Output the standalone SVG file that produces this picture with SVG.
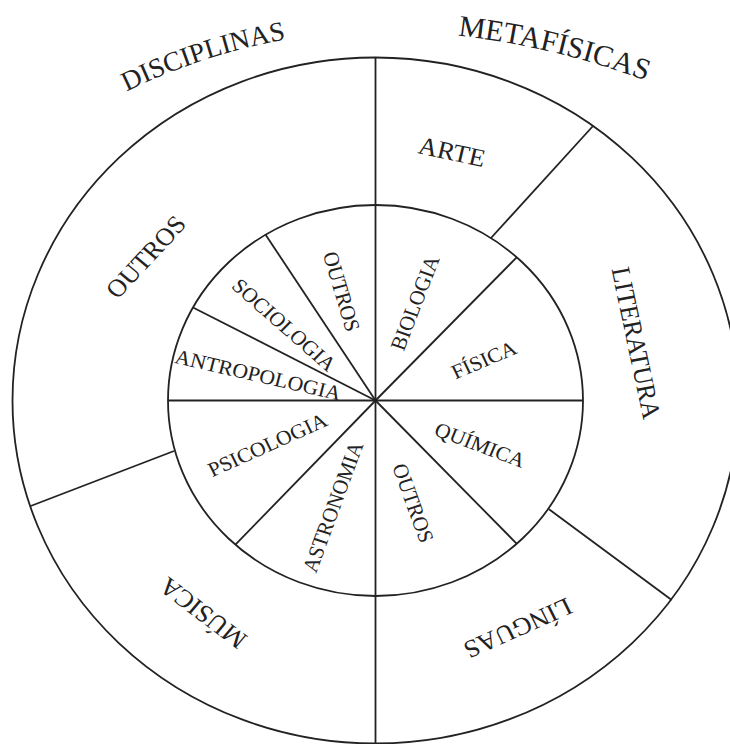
<svg xmlns="http://www.w3.org/2000/svg" width="730" height="744" viewBox="0 0 730 744">
<style>
.ln{stroke:#222;stroke-width:1.8;fill:none}
.t{font-family:"Liberation Serif","Times New Roman",serif;fill:#222;text-anchor:middle;dominant-baseline:central}
.c{font-family:"Liberation Serif","Times New Roman",serif;fill:#222;text-anchor:middle;font-size:30px}
.d{font-size:27.5px}
.s{font-size:20.5px}
.b{font-size:25px}
</style>
<defs>
<path id="arcD" d="M 114 98 A 600 600 0 0 1 300 37"/>
<path id="arcM" d="M 443 34 A 800 800 0 0 1 660 86"/>
</defs>
<rect width="730" height="744" fill="#fff"/>
<g id="rings">
<ellipse class="ln" cx="375.5" cy="400.5" rx="363" ry="343"/>
<ellipse class="ln" cx="375.5" cy="400.5" rx="207.5" ry="195.5"/>
</g>
<g id="connectors">
<line class="ln" x1="375.5" y1="57.5" x2="375.5" y2="743.5"/>
<line class="ln" x1="168" y1="400.5" x2="583" y2="400.5"/>
<line class="ln" x1="375.5" y1="400.5" x2="516.7" y2="257.3"/>
<line class="ln" x1="375.5" y1="400.5" x2="516.8" y2="543.8"/>
<line class="ln" x1="375.5" y1="400.5" x2="235.4" y2="544.7"/>
<line class="ln" x1="375.5" y1="400.5" x2="265.6" y2="234.7"/>
<line class="ln" x1="375.5" y1="400.5" x2="193" y2="307.5"/>
<line class="ln" x1="491" y1="238" x2="593" y2="126"/>
<line class="ln" x1="549" y1="509.3" x2="671.7" y2="600"/>
<line class="ln" x1="174" y1="451" x2="30.7" y2="506"/>
</g>
<g id="disciplinas">
<text class="c d"><textPath href="#arcD" startOffset="50%">DISCIPLINAS</textPath></text>
</g>
<g id="metafisicas">
<text class="c"><textPath href="#arcM" startOffset="50%">METAFÍSICAS</textPath></text>
</g>
<g id="arte"><text class="t b" transform="translate(452,152) scale(1.06,1) rotate(12.7)">ARTE</text></g>
<g id="outros-ext"><text class="t b" transform="translate(146,257) scale(1.06,1) rotate(-48.7)">OUTROS</text></g>
<g id="literatura"><text class="t b" transform="translate(636,343) scale(1.06,1) rotate(78.7)">LITERATURA</text></g>
<g id="linguas"><text class="t b" transform="translate(518,628) scale(1.06,1) rotate(154.8)">LÍNGUAS</text></g>
<g id="musica"><text class="t b" transform="translate(203,613) scale(1.06,1) rotate(218.7)">MÚSICA</text></g>
<g id="outros-sup"><text class="t s" transform="translate(341.5,291.5) scale(1.06,1) rotate(74.3)">OUTROS</text></g>
<g id="biologia"><text class="t s" transform="translate(415,303) scale(1.06,1) rotate(-69.9)">BIOLOGIA</text></g>
<g id="sociologia"><text class="t s" transform="translate(284,325) scale(1.06,1) rotate(42.9)">SOCIOLOGIA</text></g>
<g id="antropologia"><text class="t s" transform="translate(258,375) scale(1.06,1) rotate(13.6)">ANTROPOLOGIA</text></g>
<g id="fisica"><text class="t s" transform="translate(484,360) scale(1.06,1) rotate(-24.2)">FÍSICA</text></g>
<g id="quimica"><text class="t s" transform="translate(480,445) scale(1.06,1) rotate(21.7)">QUÍMICA</text></g>
<g id="psicologia"><text class="t s" transform="translate(267.5,445) scale(1.06,1) rotate(-25.4)">PSICOLOGIA</text></g>
<g id="astronomia"><text class="t s" transform="translate(333,507) scale(1.06,1) rotate(-70.8)">ASTRONOMIA</text></g>
<g id="outros-inf"><text class="t s" transform="translate(413,503) scale(1.06,1) rotate(71)">OUTROS</text></g>
</svg>
